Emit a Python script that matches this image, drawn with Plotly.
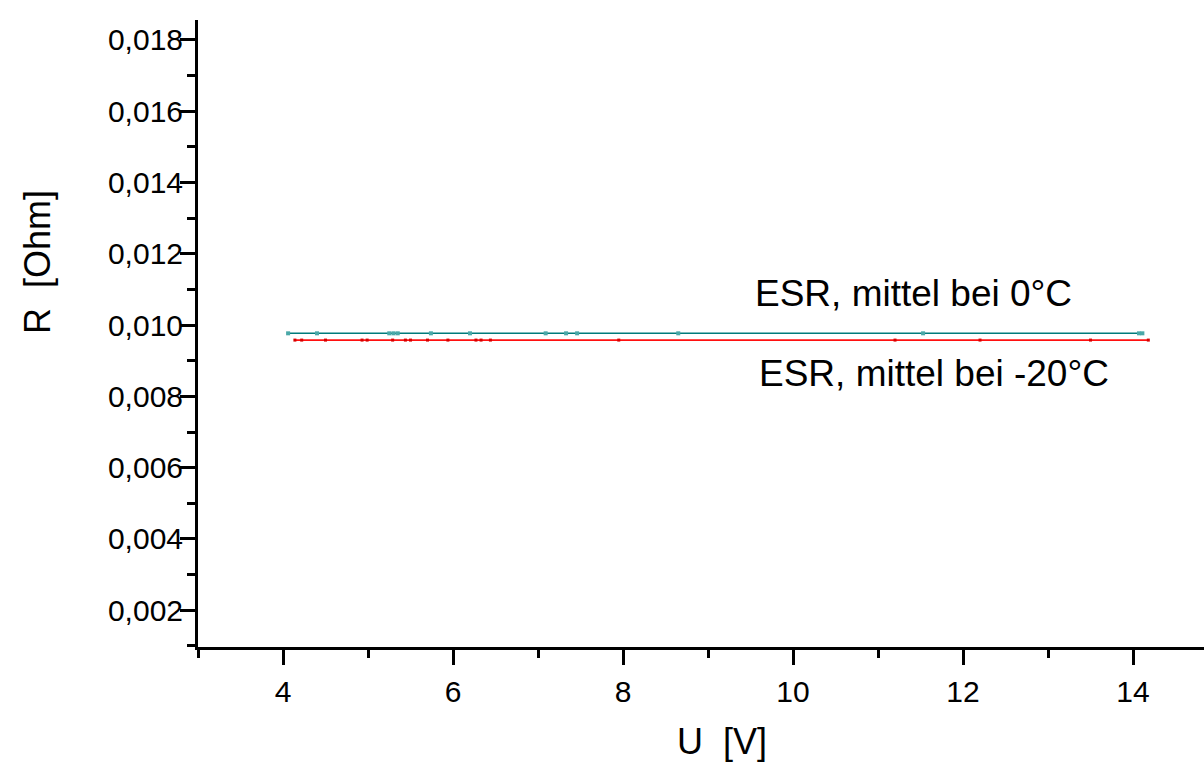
import plotly.graph_objects as go

# Measured ESR values (mean) over the supply voltage range
u_0c = [4.06, 4.40, 5.25, 5.30, 5.35, 5.74, 6.20, 7.09, 7.33, 7.46, 8.65, 11.53, 14.07, 14.11]
esr_0c = [0.00977] * len(u_0c)

u_m20c = [4.14, 4.22, 4.50, 4.93, 4.99, 5.29, 5.44, 5.50, 5.70, 5.94, 6.27, 6.33, 6.44,
          7.95, 11.20, 12.20, 13.50, 14.18]
esr_m20c = [0.00958] * len(u_m20c)

label_0c = "ESR, mittel bei 0°C"
label_m20c = "ESR, mittel bei -20°C"
x_title = "U\u00a0\u00a0[V]"
y_title = "R\u00a0\u00a0[Ohm]"

FONT = "Liberation Sans, Arial, sans-serif"

fig = go.Figure()
fig.add_trace(go.Scatter(
    x=u_m20c, y=esr_m20c, mode="lines+markers", name=label_m20c,
    line=dict(color="#ff1010", width=1.6),
    marker=dict(symbol="square", size=3, color="#d80000", line=dict(width=0)),
))
fig.add_trace(go.Scatter(
    x=u_0c, y=esr_0c, mode="lines+markers", name=label_0c,
    line=dict(color="#007b7b", width=1.6),
    marker=dict(symbol="square", size=4, color="#4aa8a8", line=dict(width=0)),
))

axis_common = dict(
    showline=True, linecolor="black", linewidth=3,
    ticks="outside", ticklen=15, tickwidth=3, tickcolor="black",
    showgrid=False, zeroline=False,
    tickfont=dict(family=FONT, size=30, color="black"),
)

fig.update_xaxes(
    range=[3, 14.835], tick0=0, dtick=2,
    minor=dict(ticks="outside", ticklen=8, tickwidth=3, tickcolor="black", dtick=1, tick0=0, showgrid=False),
    ticklabelstandoff=1,
    **axis_common,
)
fig.update_yaxes(
    range=[0.00097, 0.01856], tick0=0.002, dtick=0.002, tickformat=".3f",
    minor=dict(ticks="outside", ticklen=8, tickwidth=3, tickcolor="black", dtick=0.001, tick0=0, showgrid=False),
    ticklabelstandoff=-9,
    **axis_common,
)

fig.add_annotation(x=11.42, y=0.01090, xref="x", yref="y", text=label_0c, showarrow=False,
                   font=dict(family=FONT, size=37, color="black"), xanchor="center", yanchor="middle")
fig.add_annotation(x=11.66, y=0.00865, xref="x", yref="y", text=label_m20c, showarrow=False,
                   font=dict(family=FONT, size=37, color="black"), xanchor="center", yanchor="middle")

# axis titles
fig.add_annotation(x=722, y=770 - 741, xref="paper", yref="paper", text=x_title, showarrow=False,
                   font=dict(family=FONT, size=36, color="black"), xanchor="center", yanchor="middle")
fig.add_annotation(x=37, y=770 - 262, xref="paper", yref="paper", text=y_title, showarrow=False,
                   textangle=-90, font=dict(family=FONT, size=36, color="black"),
                   xanchor="center", yanchor="middle")

fig.update_layout(
    width=1204, height=770,
    margin=dict(l=198, r=0, t=20, b=123, autoexpand=False),
    paper_bgcolor="white", plot_bgcolor="white",
    showlegend=False,
    separators=",.",
)

# place title annotations in pixel terms relative to the paper
for ann in fig.layout.annotations:
    if ann.xref == "paper":
        ann.x = (ann.x - 198) / 1006
        ann.y = (ann.y - 123) / 627

fig.write_html("out.html")
